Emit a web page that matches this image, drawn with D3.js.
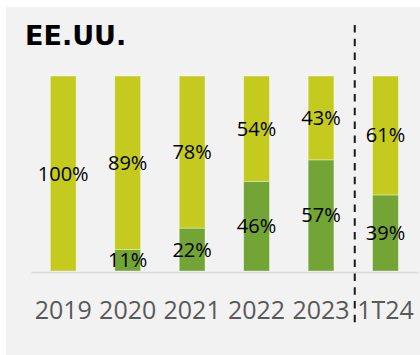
<!DOCTYPE html>
<html>
<head>
<meta charset="utf-8">
<script src="https://cdn.jsdelivr.net/npm/d3@7"></script>
<style>
  html, body { margin: 0; padding: 0; background: #ffffff; }
  svg { display: block; }
</style>
</head>
<body>
<svg id="chart" width="420" height="355"></svg>
<script>
// Share of each year, split into two stacked series (fractions of 100%)
const categories = ["2019", "2020", "2021", "2022", "2023", "1T24"];
const lowerSeries = [0.00, 0.11, 0.22, 0.46, 0.57, 0.39];   // dark green, bottom
const upperSeries = [1.00, 0.89, 0.78, 0.54, 0.43, 0.61];   // yellow-green, top
const lowerLabels = ["", "11%", "22%", "46%", "57%", "39%"];
const upperLabels = ["100%", "89%", "78%", "54%", "43%", "61%"];
const title = "EE.UU.";

const W = 420, H = 355;
const svg = d3.select("#chart");

// panel background
svg.append("rect")
  .attr("x", 6).attr("y", 7)
  .attr("width", W - 6).attr("height", H - 7)
  .attr("fill", "#f2f2f2");

const x = d3.scaleBand()
  .domain(categories)
  .range([31, 417.7])
  .paddingInner(0.6)
  .paddingOuter(0.3);

const y = d3.scaleLinear().domain([0, 1]).range([271, 76]);

const rows = categories.map((c, i) => ({
  cat: c,
  lower: lowerSeries[i],
  upper: upperSeries[i],
  lowerLabel: lowerLabels[i],
  upperLabel: upperLabels[i]
}));

const stack = d3.stack().keys(["lower", "upper"]);
const layers = stack(rows);
const colors = { lower: "#72a536", upper: "#c4cb1e" };

const g = svg.append("g");
layers.forEach(layer => {
  g.append("g")
    .selectAll("rect")
    .data(layer.filter(d => d[1] - d[0] > 0))
    .join("rect")
    .attr("x", d => x(d.data.cat))
    .attr("width", x.bandwidth())
    .attr("y", d => y(d[1]))
    .attr("height", d => y(d[0]) - y(d[1]))
    .attr("fill", colors[layer.key])
    .attr("stroke", "rgba(255,255,255,0.45)")
    .attr("stroke-width", 0.8);
});

// x axis
const axis = svg.append("g")
  .attr("transform", "translate(0,272)")
  .call(d3.axisBottom(x).tickSize(0).tickSizeOuter(0));
axis.select(".domain")
  .attr("stroke", "#d9d9d9")
  .attr("stroke-width", 1.6);
axis.selectAll("text")
  .attr("y", 47)
  .attr("dy", 0)
  .attr("fill", "#595959")
  .style("font-family", "'Open Sans', sans-serif")
  .style("font-size", "25px");

// value labels, centred in each segment
layers.forEach(layer => {
  const key = layer.key === "lower" ? "lowerLabel" : "upperLabel";
  svg.append("g")
    .selectAll("text")
    .data(layer.filter(d => d.data[key] !== ""))
    .join("text")
    .attr("x", d => x(d.data.cat) + x.bandwidth() / 2)
    .attr("y", d => (y(d[0]) + y(d[1])) / 2)
    .attr("dy", "0.35em")
    .attr("text-anchor", "middle")
    .attr("fill", "#000000")
    .style("font-family", "'Open Sans', sans-serif")
    .style("font-size", "20px")
    .text(d => d.data[key]);
});

// dashed separator between full years and the partial year
const sepX = x("1T24") - (x.step() - x.bandwidth()) / 2 + 1.5;
svg.append("line")
  .attr("x1", sepX).attr("x2", sepX)
  .attr("y1", 25).attr("y2", 323)
  .attr("stroke", "#1a1a1a")
  .attr("stroke-width", 2)
  .attr("stroke-dasharray", "7.5,6.3");

// title
svg.append("text")
  .attr("x", 25)
  .attr("y", 45)
  .attr("fill", "#000000")
  .style("font-family", "'DejaVu Sans', sans-serif")
  .style("font-weight", "bold")
  .style("font-size", "27px")
  .text(title);
</script>
</body>
</html>
